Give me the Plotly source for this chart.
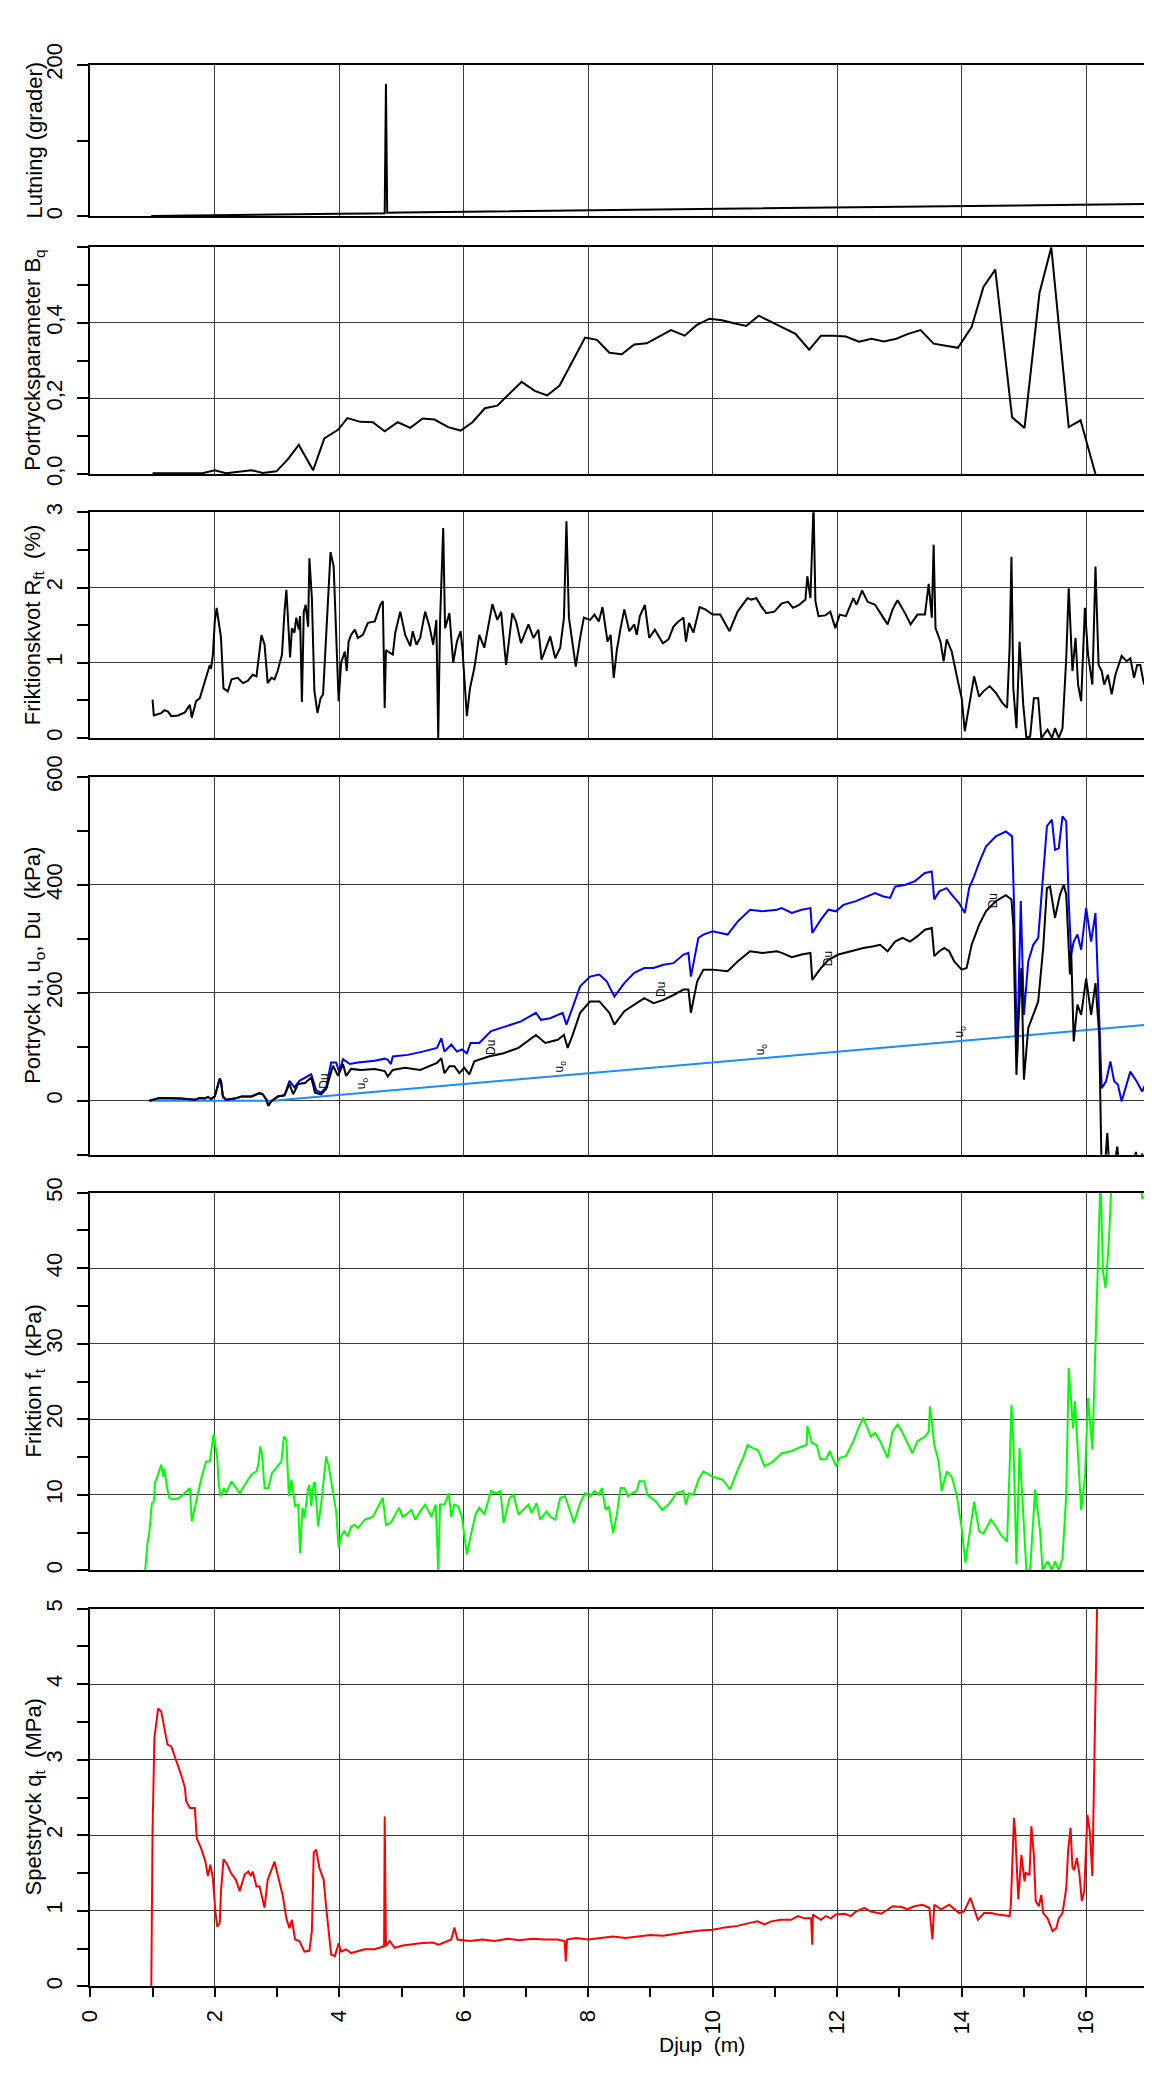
import plotly.graph_objects as go

# ---------------- data ----------------
# Panel 1: Lutning (grader)
lut_depth = [0.98, 1.5, 2.0, 2.5, 3.0, 3.5, 4.0, 4.5, 4.73, 4.75, 4.77, 5.0, 5.5, 6.0, 6.5, 7.0, 7.5,
             8.0, 8.5, 9.0, 9.5, 10.0, 10.5, 11.0, 11.5, 12.0, 12.5, 13.0, 13.5, 14.0, 14.5, 15.0,
             15.5, 16.0, 16.5, 17.05]
lut_val = [0.5, 0.8, 1.2, 1.8, 2.3, 2.8, 3.2, 3.8, 4.0, 175.0, 4.6, 5.0, 5.5, 6.0, 6.6, 7.0, 7.4,
           7.9, 8.4, 8.8, 9.3, 9.8, 10.2, 10.7, 11.1, 11.6, 12.1, 12.5, 13.0, 13.4, 13.9, 14.4,
           14.8, 15.3, 15.8, 16.4]

# Panel 2: Portrycksparameter Bq
bq_depth = [1.0, 1.2, 1.5, 1.8, 2.0, 2.18, 2.59, 2.77, 2.99, 3.17, 3.35, 3.58, 3.76, 3.98, 4.13,
            4.34, 4.54, 4.73, 4.94, 5.14, 5.34, 5.53, 5.75, 5.95, 6.14, 6.34, 6.54, 6.93, 7.14,
            7.34, 7.54, 7.73, 7.95, 8.14, 8.34, 8.54, 8.74, 8.94, 9.13, 9.33, 9.55, 9.74, 9.95,
            10.15, 10.34, 10.54, 10.74, 10.94, 11.14, 11.33, 11.55, 11.74, 11.94, 12.14, 12.35,
            12.55, 12.75, 12.95, 13.14, 13.34, 13.55, 13.75, 13.94, 14.16, 14.35, 14.54, 14.81,
            15.01, 15.25, 15.44, 15.72, 15.91, 16.15]
bq_val = [0.002, 0.002, 0.002, 0.002, 0.01, 0.002, 0.01, 0.003, 0.007, 0.038, 0.077, 0.01, 0.094,
          0.117, 0.148, 0.138, 0.137, 0.113, 0.137, 0.122, 0.147, 0.144, 0.124, 0.115, 0.137,
          0.174, 0.181, 0.244, 0.22, 0.208, 0.234, 0.294, 0.361, 0.355, 0.321, 0.317, 0.343,
          0.346, 0.363, 0.381, 0.366, 0.394, 0.411, 0.407, 0.399, 0.392, 0.419, 0.402, 0.386,
          0.371, 0.329, 0.366, 0.366, 0.364, 0.35, 0.358, 0.351, 0.358, 0.371, 0.381, 0.345,
          0.34, 0.334, 0.389, 0.495, 0.541, 0.15, 0.122, 0.479, 0.6, 0.124, 0.142, 0.0]

# Panel 3: Friktionskvot Rft (%)
rft_depth = [1.00, 1.02, 1.14, 1.19, 1.25, 1.30, 1.41, 1.52, 1.60, 1.63, 1.70, 1.76, 1.84, 1.89,
             1.92, 1.94, 1.97, 2.00, 2.03, 2.10, 2.14, 2.21, 2.27, 2.37, 2.45, 2.53, 2.61, 2.67,
             2.70, 2.75, 2.80, 2.85, 2.91, 2.96, 3.01, 3.08, 3.12, 3.15, 3.17, 3.21, 3.24, 3.28,
             3.31, 3.35, 3.37, 3.40, 3.43, 3.46, 3.50, 3.52, 3.56, 3.60, 3.65, 3.70, 3.74, 3.81,
             3.86, 3.91, 3.95, 3.99, 4.03, 4.09, 4.12, 4.15, 4.19, 4.25, 4.30, 4.38, 4.46, 4.57,
             4.66, 4.70, 4.73, 4.75, 4.78, 4.86, 4.90, 4.98, 5.06, 5.14, 5.18, 5.24, 5.30, 5.38,
             5.45, 5.51, 5.56, 5.59, 5.62, 5.67, 5.70, 5.77, 5.83, 5.89, 5.95, 5.98, 6.05, 6.10,
             6.17, 6.25, 6.33, 6.40, 6.46, 6.54, 6.60, 6.68, 6.78, 6.84, 6.92, 7.04, 7.12, 7.20,
             7.25, 7.31, 7.39, 7.47, 7.55, 7.61, 7.65, 7.69, 7.75, 7.80, 7.87, 7.93, 8.03, 8.10,
             8.17, 8.23, 8.31, 8.36, 8.41, 8.46, 8.52, 8.58, 8.66, 8.74, 8.78, 8.83, 8.91, 8.98,
             9.07, 9.20, 9.29, 9.37, 9.45, 9.53, 9.57, 9.62, 9.69, 9.79, 9.88, 10.0, 10.12, 10.27,
             10.40, 10.49, 10.56, 10.62, 10.70, 10.78, 10.86, 10.99, 11.11, 11.21, 11.29, 11.39,
             11.49, 11.52, 11.57, 11.62, 11.65, 11.70, 11.81, 11.89, 11.97, 12.04, 12.14, 12.26,
             12.31, 12.40, 12.49, 12.61, 12.69, 12.81, 12.89, 12.97, 13.09, 13.18, 13.29, 13.41,
             13.47, 13.52, 13.55, 13.58, 13.66, 13.71, 13.76, 13.84, 13.94, 14.00, 14.05, 14.12,
             14.20, 14.28, 14.35, 14.45, 14.55, 14.65, 14.73, 14.77, 14.80, 14.83, 14.88, 14.93,
             14.99, 15.04, 15.10, 15.16, 15.23, 15.28, 15.38, 15.45, 15.50, 15.56, 15.62, 15.68,
             15.72, 15.78, 15.83, 15.87, 15.92, 15.98, 16.03, 16.10, 16.15, 16.20, 16.25, 16.29,
             16.35, 16.41, 16.47, 16.57, 16.65, 16.71, 16.77, 16.82, 16.87, 16.93]
rft_val = [0.51, 0.30, 0.33, 0.37, 0.35, 0.29, 0.30, 0.34, 0.44, 0.27, 0.49, 0.53, 0.75, 0.89,
           0.97, 0.92, 1.11, 1.55, 1.73, 1.33, 0.66, 0.62, 0.78, 0.80, 0.73, 0.76, 0.84, 0.82,
           1.00, 1.37, 1.24, 0.73, 0.80, 0.78, 0.89, 1.11, 1.68, 1.97, 1.68, 1.07, 1.46, 1.40,
           1.60, 1.44, 1.62, 0.48, 1.68, 1.77, 1.48, 2.39, 1.86, 0.63, 0.33, 0.53, 0.58, 1.77,
           2.47, 2.28, 1.42, 0.49, 1.00, 1.15, 0.89, 1.28, 1.37, 1.44, 1.33, 1.37, 1.53, 1.55,
           1.77, 1.82, 0.40, 1.17, 1.15, 1.11, 1.40, 1.68, 1.37, 1.22, 1.42, 1.24, 1.33, 1.68,
           1.48, 1.24, 1.57, 0.0, 1.57, 2.79, 1.46, 1.66, 1.00, 1.28, 1.42, 1.17, 0.29, 0.66,
           0.93, 1.37, 1.20, 1.51, 1.78, 1.57, 1.68, 0.97, 1.66, 1.55, 1.26, 1.51, 1.33, 1.44,
           1.04, 1.17, 1.35, 1.06, 1.20, 1.60, 2.88, 1.60, 1.28, 0.95, 1.33, 1.60, 1.57, 1.64,
           1.55, 1.74, 1.28, 1.37, 0.80, 1.17, 1.46, 1.71, 1.42, 1.51, 1.37, 1.62, 1.77, 1.33,
           1.44, 1.26, 1.31, 1.48, 1.55, 1.60, 1.28, 1.53, 1.40, 1.74, 1.71, 1.64, 1.64, 1.42,
           1.68, 1.79, 1.86, 1.84, 1.86, 1.75, 1.66, 1.68, 1.79, 1.81, 1.73, 1.77,
           1.84, 2.15, 1.86, 3.10, 1.82, 1.62, 1.63, 1.68, 1.46, 1.64, 1.62, 1.86,
           1.77, 1.96, 1.81, 1.77, 1.66, 1.51, 1.71, 1.83, 1.66, 1.51, 1.64, 1.64,
           2.05, 1.60, 2.57, 1.46, 1.28, 1.02, 1.31, 1.15, 0.75, 0.53, 0.09, 0.44,
           0.82, 0.55, 0.62, 0.69, 0.60, 0.47, 0.40, 1.20, 2.41, 0.66, 0.13, 1.28,
           0.44, 0.0, 0.02, 0.53, 0.53, 0.0, 0.11, 0.0, 0.13, 0.0, 0.13, 1.06,
           1.99, 0.89, 1.33, 0.71, 0.49, 1.73, 1.11, 0.71, 2.28, 0.97, 0.89, 0.71,
           0.84, 0.58, 0.84, 1.09, 1.02, 1.06, 0.80, 0.97, 0.97, 0.71]

# Panel 4: Portryck u (blue), Du (black), u0 (light blue)
u_depth = [0.95, 1.03, 1.11, 1.46, 1.68, 1.76, 1.84, 1.89, 1.94, 2.00, 2.04, 2.08, 2.10, 2.13,
           2.18, 2.32, 2.43, 2.59, 2.72, 2.77, 2.83, 2.86, 2.91, 3.01, 3.12, 3.20, 3.28, 3.36,
           3.55, 3.63, 3.71, 3.79, 3.87, 3.95, 4.00, 4.06, 4.17, 4.30, 4.57, 4.73, 4.78, 4.83,
           4.86, 5.10, 5.34, 5.57, 5.64, 5.69, 5.80, 5.89, 5.97, 6.05, 6.11, 6.25, 6.44, 6.68,
           6.92, 7.16, 7.24, 7.39, 7.59, 7.65, 7.75, 7.87, 8.03, 8.18, 8.30, 8.42, 8.58, 8.74,
           8.90, 9.05, 9.21, 9.37, 9.53, 9.61, 9.65, 9.77, 9.85, 10.0, 10.24, 10.40, 10.60,
           10.80, 11.03, 11.11, 11.27, 11.43, 11.57, 11.60, 11.74, 11.86, 11.98, 12.10, 12.30,
           12.50, 12.61, 12.73, 12.85, 12.93, 13.09, 13.25, 13.41, 13.52, 13.56, 13.64, 13.76,
           13.84, 13.96, 14.05, 14.12, 14.20, 14.28, 14.39, 14.55, 14.71, 14.81, 14.84, 14.89,
           14.95, 15.00, 15.07, 15.15, 15.23, 15.31, 15.37, 15.45, 15.50, 15.56, 15.62, 15.68,
           15.72, 15.76, 15.80, 15.86, 15.92, 16.00, 16.08, 16.15, 16.21, 16.25, 16.32, 16.39,
           16.45, 16.51, 16.57, 16.65, 16.71, 16.81, 16.90, 16.97, 17.03]
u_val = [0, 2, 5, 4, 2, 5, 4, 7, 3, 8, 23, 41, 36, 8,
         2, 4, 8, 8, 14, 12, 2, -9, -1, 8, 10, 37, 25, 37,
         49, 19, 15, 25, 71, 71, 53, 77, 68, 71, 74, 78, 76, 68,
         82, 85, 91, 98, 116, 91, 104, 91, 95, 88, 107, 107, 129, 138,
         147, 163, 150, 153, 163, 141, 175, 212, 230, 234, 221, 193, 218, 237,
         246, 246, 252, 255, 271, 274, 230, 302, 308, 314, 308, 332, 354,
         351, 354, 357, 348, 354, 357, 311, 336, 354, 351, 363, 370,
         379, 385, 379, 376, 397, 400, 407, 422, 425, 373, 388, 394,
         382, 366, 348, 394, 416, 441, 471, 490, 499, 490, 370, 79,
         370, 159, 258, 289, 302, 413, 509, 521, 465, 468, 527, 518,
         370, 271, 295, 308, 280, 357, 295, 348, 159, 23, 36, 73,
         36, 30, -1, 30, 54, 36, 17, 36, 39]

du_depth = [0.95, 1.03, 1.11, 1.46, 1.68, 1.76, 1.84, 1.89, 1.94, 2.00, 2.04, 2.08, 2.10, 2.13,
            2.18, 2.32, 2.43, 2.59, 2.72, 2.77, 2.83, 2.86, 2.91, 3.01, 3.12, 3.20, 3.26, 3.34,
            3.45, 3.55, 3.61, 3.71, 3.79, 3.90, 3.98, 4.06, 4.11, 4.19, 4.35, 4.57, 4.73, 4.78,
            4.86, 5.06, 5.30, 5.57, 5.64, 5.69, 5.77, 5.85, 5.93, 6.01, 6.09, 6.17, 6.40, 6.64,
            6.88, 7.16, 7.31, 7.51, 7.61, 7.67, 7.75, 7.87, 8.03, 8.18, 8.34, 8.42, 8.58, 8.74,
            8.90, 9.05, 9.21, 9.37, 9.53, 9.61, 9.65, 9.75, 9.85, 10.0, 10.24, 10.40, 10.60,
            10.80, 11.03, 11.11, 11.27, 11.43, 11.57, 11.60, 11.74, 11.86, 12.02, 12.22, 12.42,
            12.57, 12.69, 12.81, 12.93, 13.05, 13.17, 13.29, 13.41, 13.52, 13.56, 13.64, 13.72,
            13.80, 13.88, 14.00, 14.08, 14.16, 14.28, 14.39, 14.55, 14.71, 14.80, 14.83, 14.88,
            14.92, 14.96, 15.00, 15.07, 15.15, 15.23, 15.31, 15.37, 15.42, 15.50, 15.58, 15.64,
            15.68, 15.74, 15.76, 15.80, 15.86, 15.92, 16.00, 16.08, 16.15, 16.21, 16.25, 16.29,
            16.34, 16.38, 16.45, 16.50, 16.55, 16.70, 16.80, 16.85, 16.90, 17.00]
du_val = [0, 2, 5, 4, 2, 5, 4, 7, 3, 8, 23, 41, 36, 8,
          2, 4, 8, 8, 14, 12, 2, -9, -1, 8, 10, 31, 12, 31,
          33, 43, 15, 12, 22, 65, 46, 68, 46, 59, 57, 59, 55, 45,
          57, 61, 57, 70, 79, 51, 64, 64, 51, 61, 49, 73, 82, 88,
          98, 122, 107, 113, 122, 98, 122, 163, 184, 184, 163, 141, 166, 178,
          190, 181, 187, 196, 206, 206, 163, 221, 243, 243, 240, 258, 277,
          274, 277, 274, 266, 271, 274, 224, 246, 261, 271, 277, 283,
          286, 289, 277, 295, 302, 295, 305, 317, 320, 268, 277, 283,
          277, 258, 243, 246, 289, 326, 351, 370, 381, 373, 326, 48,
          166, 246, 39, 135, 159, 184, 283, 394, 397, 339, 382, 400,
          382, 234, 277, 110, 178, 159, 227, 159, 218, 122, -140, -140,
          -60, -140, -120, -85, -140, -140, -95, -130, -98, -140]

u0_depth = [0.95, 2.93, 17.05]
u0_val = [0, 0, 141.5]

# small curve labels in panel 4
lab_text = ["Du", "u<sub>o</sub>", "Du", "u<sub>o</sub>", "Du", "u<sub>o</sub>", "Du", "u<sub>o</sub>", "Du"]
lab_depth = [3.76, 4.37, 6.44, 7.55, 9.16, 10.79, 11.85, 13.97, 14.50]
lab_val = [36, 33, 98, 64, 206, 95, 264, 128, 371]

# Panel 5: Friktion ft (kPa)
ft_depth = [0.88, 0.92, 0.95, 0.99, 1.02, 1.04, 1.09, 1.14, 1.17, 1.19, 1.23, 1.27, 1.31, 1.41,
            1.49, 1.60, 1.63, 1.68, 1.74, 1.79, 1.86, 1.92, 1.98, 2.04, 2.06, 2.09, 2.15, 2.18,
            2.27, 2.40, 2.48, 2.59, 2.67, 2.70, 2.73, 2.76, 2.80, 2.86, 2.92, 2.98, 3.01, 3.07,
            3.11, 3.15, 3.19, 3.23, 3.26, 3.29, 3.34, 3.37, 3.41, 3.44, 3.50, 3.52, 3.55, 3.59,
            3.61, 3.66, 3.71, 3.75, 3.79, 3.83, 3.91, 3.95, 3.99, 4.03, 4.08, 4.14, 4.19, 4.25,
            4.30, 4.41, 4.54, 4.62, 4.70, 4.75, 4.83, 4.96, 5.02, 5.08, 5.16, 5.22, 5.30, 5.38,
            5.48, 5.55, 5.59, 5.62, 5.69, 5.76, 5.80, 5.85, 5.91, 5.97, 6.05, 6.11, 6.19, 6.25,
            6.33, 6.44, 6.52, 6.59, 6.64, 6.74, 6.80, 6.88, 7.04, 7.09, 7.17, 7.23, 7.33, 7.39,
            7.47, 7.55, 7.63, 7.69, 7.77, 7.87, 7.95, 8.03, 8.10, 8.17, 8.22, 8.28, 8.33, 8.40,
            8.46, 8.52, 8.58, 8.64, 8.70, 8.78, 8.82, 8.90, 8.95, 9.01, 9.09, 9.19, 9.29, 9.37,
            9.41, 9.53, 9.57, 9.62, 9.69, 9.77, 9.85, 10.0, 10.16, 10.28, 10.41, 10.49, 10.56,
            10.64, 10.73, 10.83, 10.95, 11.11, 11.27, 11.43, 11.51, 11.52, 11.59, 11.67, 11.73,
            11.82, 11.88, 11.98, 12.04, 12.14, 12.26, 12.34, 12.42, 12.54, 12.61, 12.69, 12.81,
            12.89, 12.97, 13.05, 13.21, 13.29, 13.41, 13.47, 13.49, 13.52, 13.56, 13.63, 13.68,
            13.76, 13.84, 13.92, 14.00, 14.06, 14.12, 14.20, 14.28, 14.35, 14.47, 14.55, 14.63,
            14.73, 14.77, 14.80, 14.83, 14.88, 14.93, 14.99, 15.04, 15.10, 15.18, 15.26, 15.30,
            15.38, 15.45, 15.50, 15.56, 15.62, 15.68, 15.72, 15.76, 15.79, 15.82, 15.86, 15.92,
            15.98, 16.03, 16.10, 16.15, 16.20, 16.23, 16.27, 16.31, 16.35, 16.37, 16.41, 16.50,
            16.80, 16.90, 16.95, 17.03]
ft_val = [0.0, 3.6, 5.2, 8.9, 9.1, 11.6, 12.7, 14.0, 12.4, 13.5, 11.1, 9.6, 9.4, 9.5,
          10.0, 10.9, 6.5, 8.3, 10.2, 12.4, 14.4, 14.4, 18.0, 14.9, 11.8, 9.8, 10.9, 10.2,
          11.8, 10.2, 11.3, 12.7, 13.1, 14.0, 16.4, 15.3, 10.9, 10.9, 12.9, 13.5, 13.9, 14.4,
          17.7, 17.3, 9.8, 12.0, 10.5, 8.5, 8.7, 2.3, 8.3, 6.9, 10.9, 11.3, 8.5, 11.6,
          11.6, 5.8, 8.9, 12.2, 15.1, 13.8, 9.8, 7.8, 3.0, 4.5, 5.2, 4.5, 5.8, 6.0,
          5.6, 6.7, 7.1, 8.3, 9.6, 6.0, 6.3, 8.3, 7.1, 7.4, 8.0, 6.7, 7.8, 8.7,
          7.1, 8.7, 0.0, 8.7, 8.7, 10.2, 7.1, 8.7, 8.5, 7.1, 2.1, 4.5, 7.4, 8.3,
          7.4, 10.5, 10.2, 10.5, 6.3, 9.6, 10.0, 7.4, 8.7, 7.6, 8.9, 6.7, 7.8, 7.1,
          6.7, 9.6, 9.8, 8.3, 6.3, 8.9, 10.2, 9.8, 10.5, 10.0, 10.9, 8.0, 8.5, 4.9,
          7.4, 10.9, 10.9, 9.8, 10.2, 10.5, 11.8, 11.8, 10.0, 9.6, 9.1, 8.0, 8.7, 9.6,
          10.2, 10.5, 8.7, 10.2, 10.0, 12.0, 13.1, 12.4, 12.0, 10.7, 13.5, 14.9, 16.6,
          16.2, 15.9, 13.8, 14.3, 15.5, 15.8, 16.4, 16.6, 19.1, 16.9, 16.6, 14.7,
          14.7, 15.8, 13.8, 14.9, 15.1, 17.1, 18.8, 20.2, 17.7, 18.2, 17.1, 14.9,
          18.4, 19.3, 18.2, 15.5, 17.1, 17.7, 18.4, 21.7, 19.7, 16.6, 14.4, 10.5,
          13.1, 12.4, 10.0, 5.6, 1.0, 4.3, 9.1, 5.2, 4.9, 6.7, 5.8, 4.7,
          3.8, 13.5, 21.9, 17.5, 0.8, 16.2, 7.8, 0.0, 0.0, 10.7, 5.2, 0.0,
          1.2, 0.0, 1.2, 0.0, 1.6, 10.0, 26.8, 22.8, 18.8, 22.4, 16.6, 8.0,
          12.2, 22.8, 16.0, 29.9, 43.1, 52.0, 39.6, 37.4, 41.8, 44.4, 52.0, 65.0,
          58.0, 49.3, 49.5, 52.0]

# Panel 6: Spetstryck qt (MPa)
qt_depth = [0.98, 1.00, 1.03, 1.06, 1.09, 1.14, 1.19, 1.24, 1.30, 1.35, 1.41, 1.46, 1.52, 1.54,
            1.60, 1.68, 1.71, 1.78, 1.85, 1.89, 1.93, 1.97, 2.01, 2.04, 2.08, 2.10, 2.14, 2.19,
            2.26, 2.34, 2.40, 2.48, 2.54, 2.58, 2.61, 2.67, 2.72, 2.77, 2.80, 2.85, 2.91, 2.96,
            3.01, 3.09, 3.15, 3.20, 3.24, 3.29, 3.36, 3.44, 3.52, 3.56, 3.59, 3.63, 3.68, 3.75,
            3.79, 3.83, 3.87, 3.93, 3.99, 4.03, 4.11, 4.19, 4.41, 4.57, 4.72, 4.73, 4.75, 4.81,
            4.89, 5.02, 5.10, 5.30, 5.50, 5.60, 5.80, 5.85, 5.90, 6.10, 6.30, 6.50, 6.70, 6.90,
            7.10, 7.30, 7.50, 7.62, 7.64, 7.66, 7.80, 8.00, 8.20, 8.40, 8.60, 8.80, 9.00, 9.20,
            9.40, 9.60, 9.80, 10.0, 10.2, 10.4, 10.6, 10.72, 10.83, 10.94, 11.10, 11.26, 11.37,
            11.47, 11.58, 11.60, 11.61, 11.74, 11.82, 11.90, 11.98, 12.12, 12.22, 12.30, 12.44,
            12.54, 12.71, 12.89, 13.03, 13.13, 13.24, 13.37, 13.48, 13.53, 13.56, 13.67, 13.80,
            13.96, 14.04, 14.14, 14.26, 14.36, 14.47, 14.58, 14.77, 14.79, 14.84, 14.86, 14.91,
            14.96, 15.01, 15.03, 15.09, 15.12, 15.16, 15.19, 15.24, 15.28, 15.31, 15.38, 15.46,
            15.52, 15.56, 15.62, 15.68, 15.71, 15.75, 15.78, 15.81, 15.85, 15.89, 15.93, 15.97,
            16.02, 16.06, 16.10, 16.14, 16.16, 16.18, 16.30]
qt_val = [0.0, 2.05, 3.29, 3.53, 3.68, 3.64, 3.42, 3.20, 3.18, 3.07, 2.93, 2.80, 2.63, 2.45,
          2.36, 2.36, 1.96, 1.83, 1.65, 1.46, 1.61, 1.43, 0.99, 0.79, 0.84, 1.26, 1.68, 1.63,
          1.50, 1.41, 1.26, 1.48, 1.52, 1.46, 1.52, 1.32, 1.32, 1.13, 1.04, 1.41, 1.54, 1.65,
          1.48, 1.21, 0.90, 0.77, 0.88, 0.62, 0.60, 0.46, 0.47, 0.73, 1.77, 1.81, 1.57, 1.41,
          1.04, 0.68, 0.42, 0.40, 0.57, 0.46, 0.49, 0.44, 0.49, 0.49, 0.53, 2.25, 0.53, 0.60,
          0.51, 0.54, 0.55, 0.57, 0.58, 0.55, 0.62, 0.78, 0.62, 0.60, 0.62, 0.60, 0.63, 0.61,
          0.63, 0.62, 0.62, 0.60, 0.33, 0.62, 0.64, 0.62, 0.64, 0.66, 0.64, 0.66, 0.68, 0.67,
          0.70, 0.72, 0.74, 0.75, 0.78, 0.80, 0.84, 0.86, 0.82, 0.86, 0.88, 0.88, 0.93,
          0.90, 0.90, 0.55, 0.95, 0.88, 0.93, 0.90, 0.95, 0.96, 0.93, 0.99, 1.04,
          0.99, 0.96, 1.06, 1.05, 1.02, 1.06, 1.08, 1.04, 0.62, 1.08, 1.02, 1.08,
          0.97, 0.99, 1.17, 0.88, 0.97, 0.97, 0.95, 0.93, 1.08, 2.23, 2.05, 1.15,
          1.74, 1.39, 1.50, 1.48, 2.12, 1.74, 1.13, 1.06, 1.21, 0.97, 0.90, 0.73,
          0.77, 0.90, 0.97, 1.30, 1.79, 2.10, 1.57, 1.54, 1.70, 1.50, 1.13, 1.26,
          2.27, 2.05, 1.46, 3.38, 4.83, 5.2, 6.0]

# axis ticks
x_major = [0, 2, 4, 6, 8, 10, 12, 14, 16]
x_minor = [1, 3, 5, 7, 9, 11, 13, 15, 17]
y_ticks = [
    ([0, 200], ["0", "200"], [100], [0, 200]),
    ([0, 0.2, 0.4], ["0,0", "0,2", "0,4"], [0.1, 0.3, 0.5, 0.6], [0, 0.6]),
    ([0, 1, 2, 3], ["0", "1", "2", "3"], [0.5, 1.5, 2.5], [0, 3]),
    ([0, 200, 400, 600], ["0", "200", "400", "600"], [-100, 100, 300, 500], [-100, 600]),
    ([0, 10, 20, 30, 40, 50], ["0", "10", "20", "30", "40", "50"], [5, 15, 25, 35, 45], [0, 50]),
    ([0, 1, 2, 3, 4, 5], ["0", "1", "2", "3", "4", "5"], [0.5, 1.5, 2.5, 3.5, 4.5], [0, 5]),
]
y_titles = ["Lutning (grader)", "Portrycksparameter B<sub>q</sub>",
            "Friktionskvot R<sub>ft</sub>\u00a0\u00a0(%)",
            "Portryck u, u<sub>o</sub>, Du\u00a0\u00a0(kPa)",
            "Friktion f<sub>t</sub>\u00a0\u00a0(kPa)",
            "Spetstryck q<sub>t</sub>\u00a0\u00a0(MPa)"]
x_title = "Djup\u00a0\u00a0(m)"

# ---------------- layout geometry ----------------
W, H = 1152, 2089
X_LEFT, X_RIGHT = 82.3, 1143.5
PANELS = [(56.7, 208.3), (239.3, 466.0), (504.3, 730.0), (769.0, 1146.7),
          (1184.7, 1562.3), (1600.7, 1978.3)]
FONT = "Liberation Sans, Arial, sans-serif"
GRID = "#3c3c3c"
TICK_FS = 22
TITLE_FS = 22

fig = go.Figure()

def add(x, y, color, panel, width=2.0):
    fig.add_trace(go.Scatter(x=x, y=y, mode="lines", line=dict(color=color, width=width),
                             xaxis="x" if panel == 1 else f"x{panel}",
                             yaxis="y" if panel == 1 else f"y{panel}",
                             showlegend=False, hoverinfo="skip"))

add(lut_depth, lut_val, "black", 1)
add(bq_depth, bq_val, "black", 2)
add(rft_depth, rft_val, "black", 3)
add(u0_depth, u0_val, "#1a8cff", 4)
add(u_depth, u_val, "#0000ff", 4)
add(du_depth, du_val, "black", 4)
add(ft_depth, ft_val, "#00ff00", 5)
add(qt_depth, qt_val, "#ff0000", 6)

layout = dict(template="none", width=W, height=H, margin=dict(l=0, r=0, t=0, b=0, pad=0),
              paper_bgcolor="white", plot_bgcolor="white", showlegend=False,
              font=dict(family=FONT, size=TICK_FS, color="black"))

xdom = [X_LEFT / W, X_RIGHT / W]
annotations = []
for i, (top, bot) in enumerate(PANELS, start=1):
    sfx = "" if i == 1 else str(i)
    ydom = [1 - bot / H, 1 - top / H]
    tv, tt, minor_v, yr = y_ticks[i - 1]
    bottom = (i == 6)
    layout["xaxis" + sfx] = dict(
        domain=xdom, anchor="y" + sfx, range=[0, 17.05], automargin=False,
        tickmode="array", tickvals=x_major,
        ticktext=[str(v) for v in x_major],
        showticklabels=bottom, ticks="outside" if bottom else "",
        ticklen=9, tickwidth=1.5, tickcolor="black", tickangle=-90,
        ticklabelstandoff=4,
        minor=dict(tickvals=x_minor, ticks="outside" if bottom else "", ticklen=9,
                   tickwidth=1.5, tickcolor="black", showgrid=False),
        showgrid=True, gridcolor=GRID, gridwidth=1, zeroline=False,
        showline=True, linecolor="black", linewidth=2, mirror=True,
        tickfont=dict(size=TICK_FS, family=FONT, color="black"))
    layout["yaxis" + sfx] = dict(
        domain=ydom, anchor="x" + sfx, range=yr, automargin=False,
        tickmode="array", tickvals=tv, ticktext=tt, ticks="outside",
        ticklen=11, tickwidth=1.5, tickcolor="black", tickangle=-90,
        ticklabelstandoff=7,
        minor=dict(tickvals=minor_v, ticks="outside", ticklen=11, tickwidth=1.5,
                   tickcolor="black", showgrid=False),
        showgrid=True, gridcolor=GRID, gridwidth=1, zeroline=False,
        showline=True, linecolor="black", linewidth=2, mirror=True,
        tickfont=dict(size=TICK_FS, family=FONT, color="black"))
    annotations.append(dict(text=y_titles[i - 1], xref="paper", yref="paper",
                            x=26 / W, y=1 - (top + bot) / 2 / H, xanchor="center",
                            yanchor="middle", textangle=-90, showarrow=False,
                            font=dict(size=TITLE_FS, family=FONT, color="black")))

for t, d, v in zip(lab_text, lab_depth, lab_val):
    annotations.append(dict(text=t, xref="x4", yref="y4", x=d, y=v, showarrow=False,
                            textangle=-90, xanchor="center", yanchor="middle",
                            font=dict(size=12, family=FONT, color="black")))

annotations.append(dict(text=x_title, xref="paper", yref="paper", x=694 / W, y=1 - 2036 / H,
                        xanchor="center", yanchor="middle", showarrow=False,
                        font=dict(size=21, family=FONT, color="black")))
layout["annotations"] = annotations
fig.update_layout(**layout)

fig.write_html("out.html")
